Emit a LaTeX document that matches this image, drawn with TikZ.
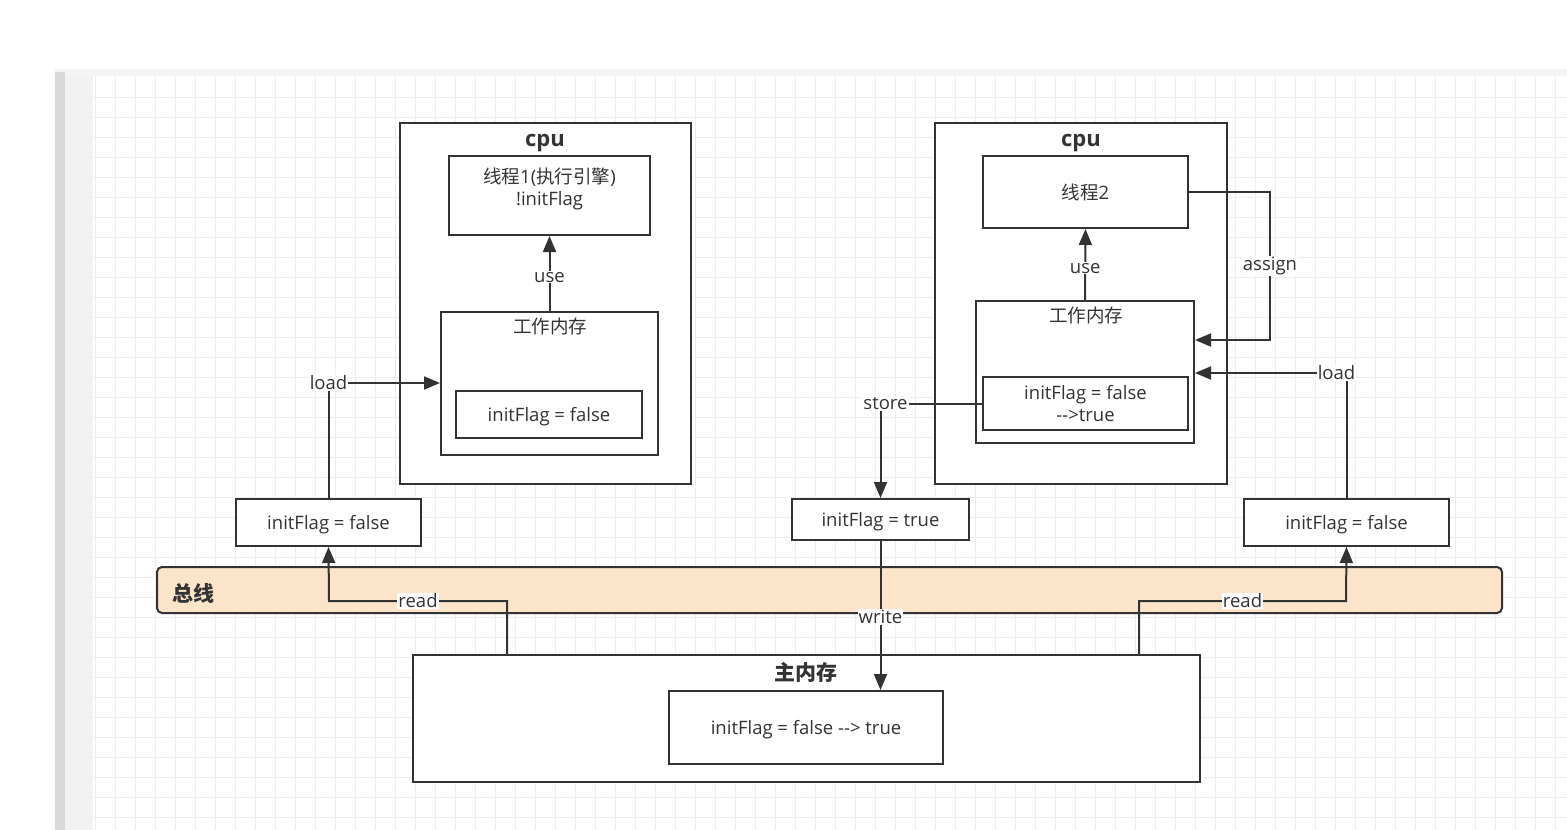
\documentclass[tikz,border=0pt]{standalone}
\usepackage{fontspec}
\setmainfont{Open Sans}
\newfontfamily\cjk{Noto Sans CJK SC}
\usetikzlibrary{arrows.meta}
\definecolor{ink}{HTML}{333333}
\definecolor{busfill}{HTML}{FCE4CA}
\definecolor{gridgray}{HTML}{EDEDED}
\begin{document}
\begin{tikzpicture}[x=1pt,y=-1pt,
    box/.style={draw=ink,line width=2pt,fill=white,inner sep=0pt,text=ink,font=\fontsize{18.5}{22}\selectfont,align=center,text depth=0pt},
    txt/.style={text=ink,inner sep=1pt,font=\fontsize{18.5}{22}\selectfont,text depth=0pt},
    title/.style={text=ink,inner sep=1pt,font=\fontsize{22}{26}\selectfont\bfseries,text depth=0pt},
    elabel/.style={fill=white,text=ink,inner sep=1pt,font=\fontsize{18.5}{22}\selectfont},
    link/.style={draw=ink,line width=2pt},
    arr/.style={link,-{Triangle[length=16pt,width=13pt]}}]

    % canvas
    \useasboundingbox (0,0) rectangle (1567,830);
    \fill[white] (0,0) rectangle (1567,830);
    \fill[gridgray!60] (55,69) rectangle (1567,76);
    \fill[black!15] (55,72) rectangle (65,830);
    \fill[black!5] (65,76) rectangle (93,830);
    \foreach \gx in {95,115,...,1567}
        \draw[gridgray,line width=0.8pt] (\gx,76) -- (\gx,830);
    \foreach \gy in {97,117,...,830}
        \draw[gridgray,line width=0.8pt] (93,\gy) -- (1567,\gy);

    % cpu 1
    \node[box,minimum width=291,minimum height=361] (cpuA) at (545.5,303.5) {};
    \node[title] (cpuAtitle) at (545,140) {cpu};
    \node[box,minimum width=201,minimum height=79] (threadA) at (549.5,195.5) {};
    \node[txt,align=center] (threadAtext) at (549.5,187) {{\cjk 线程}1({\cjk 执行引擎})\\!initFlag};
    \node[box,minimum width=217,minimum height=143] (wmA) at (549.5,383.5) {};
    \node[txt,font=\fontsize{18.5}{22}\cjk] (wmAtitle) at (550,326) {工作内存};
    \node[box,minimum width=186,minimum height=47] (varA) at (549,414.5) {initFlag = false};

    % cpu 2
    \node[box,minimum width=292,minimum height=361] (cpuB) at (1081,303.5) {};
    \node[title] (cpuBtitle) at (1081,140) {cpu};
    \node[box,minimum width=205,minimum height=72] (threadB) at (1085.5,192) {{\cjk 线程}2};
    \node[box,minimum width=218,minimum height=142] (wmB) at (1085,372) {};
    \node[txt,font=\fontsize{18.5}{22}\cjk] (wmBtitle) at (1086,315) {工作内存};
    \node[box,minimum width=205,minimum height=53] (varB) at (1085.5,403.5) {initFlag = false\\-{}->true};

    % copies
    \node[box,minimum width=185,minimum height=47] (copyA) at (328.5,522.5) {initFlag = false};
    \node[box,minimum width=177,minimum height=41] (copyM) at (880.5,519.5) {initFlag = true};
    \node[box,minimum width=205,minimum height=47] (copyB) at (1346.5,522.5) {initFlag = false};

    % bus
    \node[draw=ink,line width=2pt,fill=busfill,rounded corners=5pt,minimum width=1345,minimum height=46] (bus) at (829.5,590) {};
    \node[title,font=\fontsize{21}{24}\cjk\bfseries] (bustitle) at (193,592) {总线};

    % main memory
    \node[box,minimum width=787,minimum height=127] (mainmem) at (806.5,718.5) {};
    \node[title,font=\fontsize{21}{24}\cjk\bfseries] (mainmemtitle) at (806,671) {主内存};
    \node[box,minimum width=274,minimum height=73] (varM) at (806,727.5) {initFlag = false -{}-> true};

    % connectors
    \draw[arr] (wmA.north) -- node[elabel,pos=0.45] {use} (threadA.south);
    \draw[arr] (wmB.north) -- node[elabel,pos=0.45] {use} (threadB.south);
    \draw[arr] (copyA.north) |- node[elabel,pos=0.5] {load} (wmA.west |- 0,383);
    \draw[arr] (mainmem.north -| 507,0) -- (507,601) -- node[elabel,pos=0.5] {read} (329,601) -- (copyA.south);
    \draw[arr] (varB.west) -| node[elabel,pos=0.5,xshift=5] {store} (copyM.north);
    \draw[arr] (copyM.south) -- node[elabel,pos=0.51] {write} (varM.north -| copyM.south);
    \draw[arr] (threadB.east) -- (1270,192) -- node[elabel,pos=0.5] {assign} (1270,340) -- (wmB.east |- 0,340);
    \draw[arr] (copyB.north) |- node[elabel,pos=0.5,xshift=-10] {load} (wmB.east |- 0,373);
    \draw[arr] (mainmem.north -| 1139,0) -- (1139,601) -- node[elabel,pos=0.5] {read} (1346,601) -- (copyB.south);
\end{tikzpicture}
\end{document}
